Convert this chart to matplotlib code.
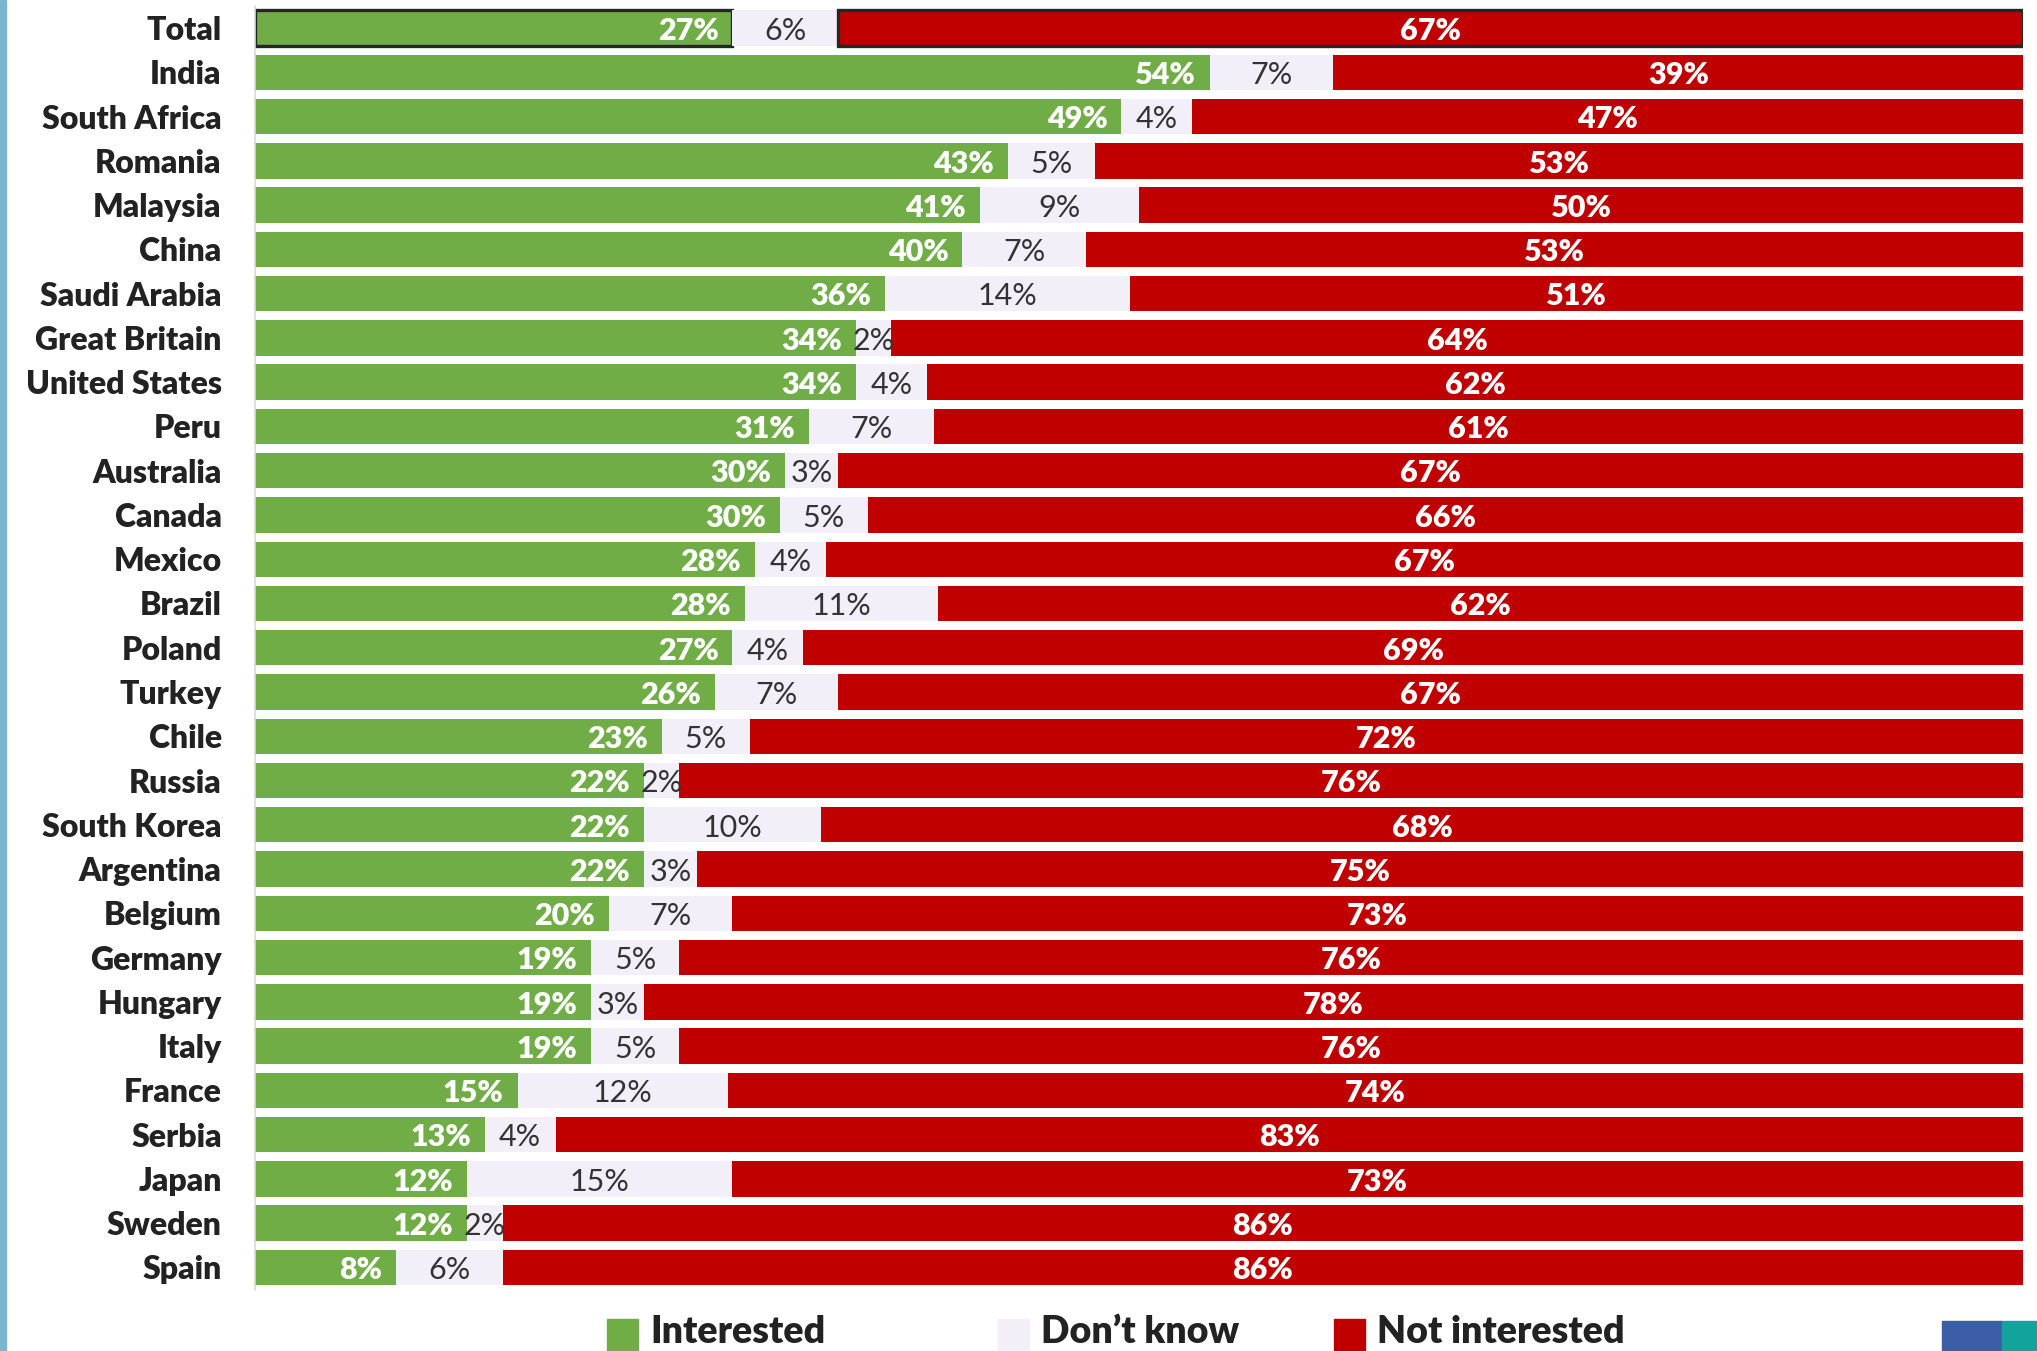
import numpy as np
import matplotlib.pyplot as plt
from matplotlib.patches import Rectangle

countries = ['Total', 'India', 'South Africa', 'Romania', 'Malaysia', 'China',
             'Saudi Arabia', 'Great Britain', 'United States', 'Peru', 'Australia',
             'Canada', 'Mexico', 'Brazil', 'Poland', 'Turkey', 'Chile', 'Russia',
             'South Korea', 'Argentina', 'Belgium', 'Germany', 'Hungary', 'Italy',
             'France', 'Serbia', 'Japan', 'Sweden', 'Spain']
interested = [27, 54, 49, 43, 41, 40, 36, 34, 34, 31, 30, 30, 28, 28, 27, 26, 23,
              22, 22, 22, 20, 19, 19, 19, 15, 13, 12, 12, 8]
dont_know = [6, 7, 4, 5, 9, 7, 14, 2, 4, 7, 3, 5, 4, 11, 4, 7, 5, 2, 10, 3, 7, 5,
             3, 5, 12, 4, 15, 2, 6]
not_interested = [67, 39, 47, 53, 50, 53, 51, 64, 62, 61, 67, 66, 67, 62, 69, 67,
                  72, 76, 68, 75, 73, 76, 78, 76, 74, 83, 73, 86, 86]
legend_labels = ['Interested', 'Don\u2019t know', 'Not interested']

GREEN = '#70ad47'
LIGHT = '#f3eff9'
RED = '#c00000'

plt.rcParams['font.family'] = ['Lato', 'DejaVu Sans']

fig = plt.figure(figsize=(20.37, 13.51), dpi=100)
ax = fig.add_axes([255 / 2037, 0.0455, (2023 - 255) / 2037, 0.9501])

a = np.array(interested, float)
b = np.array(dont_know, float)
c = np.array(not_interested, float)
tot = a + b + c
a_n, b_n, c_n = a / tot, b / tot, c / tot
y = np.arange(len(countries))

bars_a = ax.barh(y, a_n, height=0.8, color=GREEN)
bars_b = ax.barh(y, b_n, left=a_n, height=0.8, color=LIGHT)
bars_c = ax.barh(y, c_n, left=a_n + b_n, height=0.8, color=RED)

# outline the Total row
for p in (bars_a[0], bars_c[0]):
    p.set_edgecolor('#262626')
    p.set_linewidth(2.4)

for i in range(len(countries)):
    ax.annotate(f'{interested[i]}%', (a_n[i], y[i]), xytext=(-10, -2),
                textcoords='offset points', ha='right', va='center',
                color='white', fontsize=22, fontweight='heavy')
    ax.annotate(f'{dont_know[i]}%', (a_n[i] + b_n[i] / 2, y[i]), xytext=(0, -2),
                textcoords='offset points', ha='center', va='center',
                color='#333333', fontsize=22)
    ax.annotate(f'{not_interested[i]}%', (a_n[i] + b_n[i] + c_n[i] / 2, y[i]),
                xytext=(0, -2), textcoords='offset points', ha='center',
                va='center', color='white', fontsize=22, fontweight='heavy')

ax.set_xlim(0, 1)
ax.set_ylim(len(countries) - 0.5, -0.5)
ax.set_yticks(y)
ax.set_yticklabels(countries, fontsize=23, fontweight='heavy', color='#222222')
ax.tick_params(axis='y', length=0, pad=24)
ax.set_xticks([])
for s in ('top', 'right', 'bottom'):
    ax.spines[s].set_visible(False)
ax.spines['left'].set_color('#d9d9d9')
ax.spines['left'].set_linewidth(1.2)

# legend drawn along the bottom edge
W, H = 2037, 1351
leg_x = [607, 998, 1334]
for x0, lab, col in zip(leg_x, legend_labels, [GREEN, LIGHT, RED]):
    fig.patches.append(Rectangle((x0 / W, 0), 31 / W, 32 / H, color=col,
                                 transform=fig.transFigure))
    fig.text((x0 + 43) / W, 8 / H, lab, fontsize=27, fontweight='heavy',
             color='#222222', ha='left', va='baseline')

# left accent strip and corner logo
fig.patches.append(Rectangle((0, 0), 6 / W, 1, color='#79b5cf',
                             transform=fig.transFigure))
fig.patches.append(Rectangle((1942 / W, 0), 60 / W, 30 / H, color='#3b5ea6',
                             transform=fig.transFigure))
fig.patches.append(Rectangle((2002 / W, 0), 35 / W, 30 / H, color='#12a39c',
                             transform=fig.transFigure))

fig.savefig('out.png', dpi=100)
plt.close(fig)
